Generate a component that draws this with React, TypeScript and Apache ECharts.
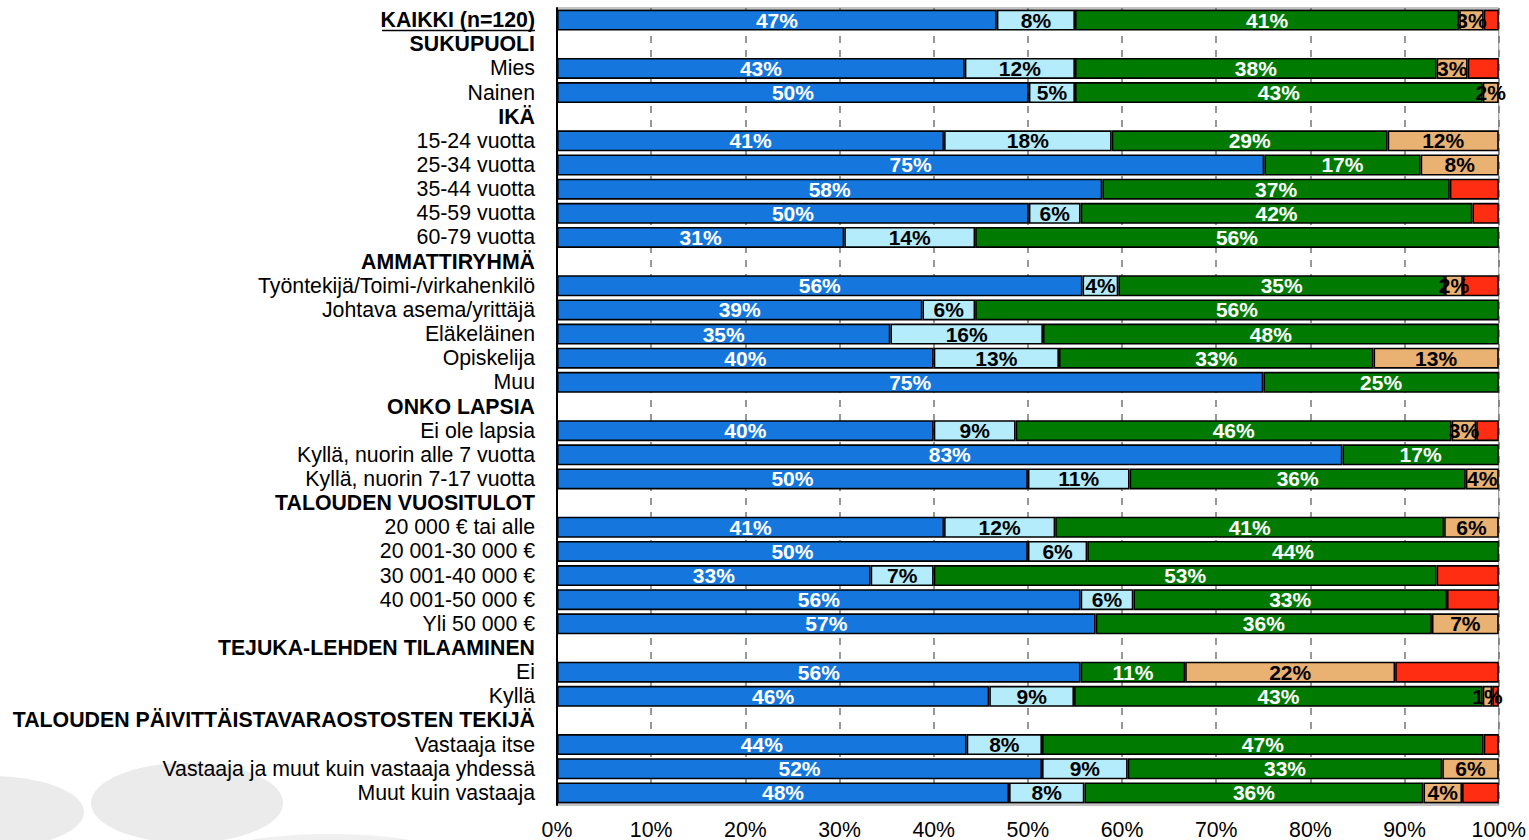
import React, { useEffect, useRef } from "react";
import * as echarts from "echarts";

const categories = [
  "KAIKKI (n=120)",
  "SUKUPUOLI",
  "Mies",
  "Nainen",
  "IKÄ",
  "15-24 vuotta",
  "25-34 vuotta",
  "35-44 vuotta",
  "45-59 vuotta",
  "60-79 vuotta",
  "AMMATTIRYHMÄ",
  "Työntekijä/Toimi-/virkahenkilö",
  "Johtava asema/yrittäjä",
  "Eläkeläinen",
  "Opiskelija",
  "Muu",
  "ONKO LAPSIA",
  "Ei ole lapsia",
  "Kyllä, nuorin alle 7 vuotta",
  "Kyllä, nuorin 7-17 vuotta",
  "TALOUDEN VUOSITULOT",
  "20 000 € tai alle",
  "20 001-30 000 €",
  "30 001-40 000 €",
  "40 001-50 000 €",
  "Yli 50 000 €",
  "TEJUKA-LEHDEN TILAAMINEN",
  "Ei",
  "Kyllä",
  "TALOUDEN PÄIVITTÄISTAVARAOSTOSTEN TEKIJÄ",
  "Vastaaja itse",
  "Vastaaja ja muut kuin vastaaja yhdessä",
  "Muut kuin vastaaja",
];

const headerRows = [
  "KAIKKI (n=120)",
  "SUKUPUOLI",
  "IKÄ",
  "AMMATTIRYHMÄ",
  "ONKO LAPSIA",
  "TALOUDEN VUOSITULOT",
  "TEJUKA-LEHDEN TILAAMINEN",
  "TALOUDEN PÄIVITTÄISTAVARAOSTOSTEN TEKIJÄ",
];

const seriesBlue = [46.7, null, 43.3, 50.1, null, 41.1, 75.1, 57.9, 50.1, 30.5, null, 55.8, 38.8, 35.4, 40.0, 75, null, 40, 83.4, 50, null, 41.1, 50, 33.3, 55.6, 57.2, null, 55.6, 45.9, null, 43.5, 51.5, 48.0];
const seriesLightBlue = [8.3, null, 11.7, 4.9, null, 17.8, 0, 0, 5.5, 13.9, null, 3.8, 5.6, 16.2, 13.3, 0, null, 8.7, 0, 10.8, null, 11.8, 6.3, 6.7, 5.6, 0, null, 0, 9.0, null, 8.0, 9.1, 8.0];
const seriesGreen = [40.8, null, 38.4, 43.3, null, 29.3, 16.6, 36.9, 41.6, 55.6, null, 34.7, 55.6, 48.4, 33.4, 25, null, 46.3, 16.6, 35.7, null, 41.3, 43.7, 53.4, 33.3, 35.7, null, 11.1, 43.4, null, 46.9, 33.4, 36.0];
const seriesTan = [2.6, null, 3.3, 1.7, null, 11.8, 8.3, 0, 0, 0, null, 1.9, 0, 0, 13.3, 0, null, 2.6, 0, 3.5, null, 5.8, 0, 0, 0, 7.1, null, 22.3, 1.0, null, 0, 6.0, 4.1];
const seriesRed = [1.6, null, 3.3, 0, null, 0, 0, 5.2, 2.8, 0, null, 3.8, 0, 0, 0, 0, null, 2.4, 0, 0, null, 0, 0, 6.6, 5.5, 0, null, 11.0, 0.7, null, 1.6, 0, 3.9];

const FONT = "'Liberation Sans', Arial, Helvetica, sans-serif";

const clean = (arr: (number | null)[]) => arr.map((v) => (v === null || v === 0 ? "-" : v));

export default function App() {
  const ref = useRef<HTMLDivElement>(null);

  useEffect(() => {
    document.body.style.margin = "0";
    if (!ref.current) return;
    const chart = echarts.init(ref.current, null, { renderer: "svg" });

    const mkSeries = (name: string, data: (number | null)[], color: string, labelColor: string | null) => ({
      name,
      type: "bar",
      stack: "total",
      barWidth: 21,
      data: clean(data),
      itemStyle: { color, borderColor: "#000", borderWidth: 1.6 },
      label: {
        show: labelColor !== null,
        position: "inside",
        color: labelColor || "#000",
        fontFamily: FONT,
        fontWeight: "bold",
        fontSize: 21,
        formatter: (p: any) => (typeof p.value === "number" && p.value > 0 ? Math.round(p.value) + "%" : ""),
      },
      emphasis: { disabled: true },
    });

    chart.setOption({
      animation: false,
      backgroundColor: "#fff",
      grid: {
        left: 557,
        right: 29,
        top: 8,
        bottom: 35,
        show: true,
        borderColor: "#888",
        borderWidth: 1,
        backgroundColor: "transparent",
      },
      xAxis: {
        type: "value",
        min: 0,
        max: 100,
        interval: 10,
        axisLine: { show: false },
        axisTick: { show: false },
        splitLine: {
          show: true,
          lineStyle: { color: "#777", width: 1.5, type: [7, 7] },
        },
        axisLabel: {
          formatter: "{value}%",
          fontFamily: FONT,
          fontSize: 21.3,
          color: "#000",
          margin: 14,
        },
      },
      yAxis: {
        type: "category",
        data: categories,
        inverse: true,
        axisLine: { show: true, lineStyle: { color: "#000", width: 2 } },
        axisTick: { show: false },
        splitLine: { show: false },
        axisLabel: {
          interval: 0,
          margin: 22,
          fontFamily: FONT,
          fontSize: 21.3,
          color: "#000",
          formatter: (v: string) => (headerRows.includes(v) ? `{b|${v}}` : v),
          rich: {
            b: { fontFamily: FONT, fontSize: 21.3, fontWeight: "bold", color: "#000" },
          },
        },
      },
      graphic: [
        {
          type: "ellipse",
          z: -10,
          silent: true,
          shape: { cx: -8, cy: 812, rx: 92, ry: 36 },
          style: { fill: "#ebebeb" },
        },
        {
          type: "ellipse",
          z: -10,
          silent: true,
          shape: { cx: 187, cy: 803, rx: 96, ry: 40 },
          style: { fill: "#ebebeb" },
        },
        {
          type: "ellipse",
          z: -10,
          silent: true,
          shape: { cx: 330, cy: 862, rx: 130, ry: 28 },
          style: { fill: "#f0f0f0" },
        },
        {
          type: "line",
          silent: true,
          shape: { x1: 382, y1: 30.5, x2: 535, y2: 30.5 },
          style: { stroke: "#000", lineWidth: 1.5 },
        },
      ],
      series: [
        mkSeries("blue", seriesBlue, "#1577DD", "#fff"),
        mkSeries("lightblue", seriesLightBlue, "#B5ECFC", "#000"),
        mkSeries("green", seriesGreen, "#007A00", "#fff"),
        mkSeries("tan", seriesTan, "#E9B172", "#000"),
        mkSeries("red", seriesRed, "#FF2D12", null),
      ],
    });

    return () => chart.dispose();
  }, []);

  return <div ref={ref} style={{ width: 1529, height: 840 }} />;
}
